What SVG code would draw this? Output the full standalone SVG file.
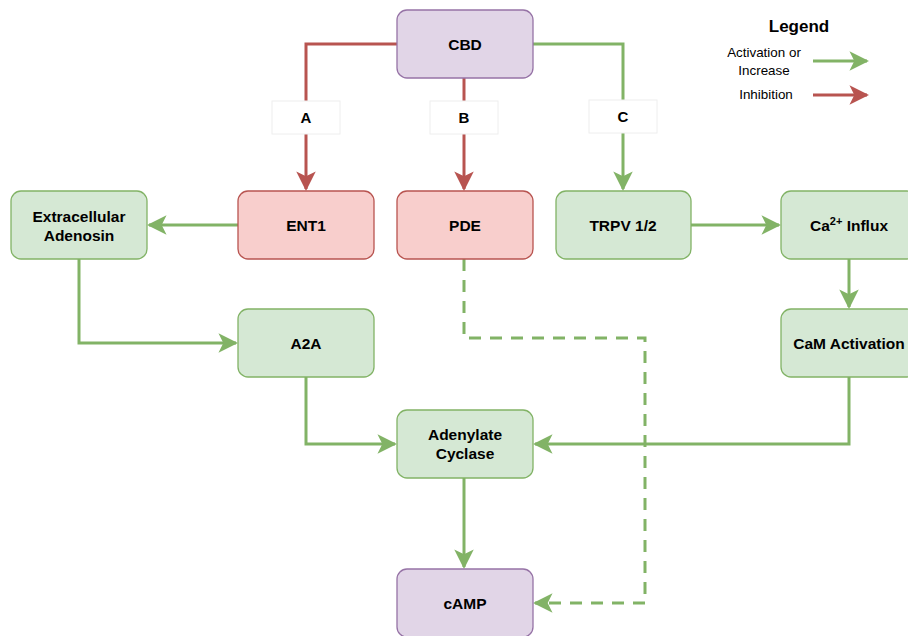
<svg xmlns="http://www.w3.org/2000/svg" width="908" height="636" viewBox="0 0 908 636">
<style>
.n text{font-family:"Liberation Sans",Arial,sans-serif;font-weight:bold;font-size:15.5px;fill:#000;text-anchor:middle}
.p rect{fill:#e1d5e7;stroke:#9673a6;stroke-width:1.3}
.r rect{fill:#f8cecc;stroke:#b85450;stroke-width:1.3}
.g rect{fill:#d5e8d4;stroke:#82b366;stroke-width:1.3}
.lb rect{fill:#fff;stroke:#eeeeee;stroke-width:1}
.lb text{font-family:"Liberation Sans",Arial,sans-serif;font-weight:bold;font-size:15px;text-anchor:middle}
.cg{fill:none;stroke:#82b366;stroke-width:3;marker-end:url(#ag)}
.cr{fill:none;stroke:#b85450;stroke-width:3;marker-end:url(#ar)}
.dash{stroke-dasharray:12 9}
.lg{font-family:"Liberation Sans",Arial,sans-serif;font-size:13.4px;fill:#000;text-anchor:middle}
.lgt{font-family:"Liberation Sans",Arial,sans-serif;font-size:17px;font-weight:bold;fill:#000;text-anchor:middle}
</style>
<defs>
<marker id="ag" viewBox="0 0 10 10" refX="9" refY="5" markerWidth="6.5" markerHeight="6.5" markerUnits="strokeWidth" orient="auto"><path d="M0,0 L10,5 L0,10 L2.5,5 Z" fill="#82b366"/></marker>
<marker id="ar" viewBox="0 0 10 10" refX="9" refY="5" markerWidth="6.5" markerHeight="6.5" markerUnits="strokeWidth" orient="auto"><path d="M0,0 L10,5 L0,10 L2.5,5 Z" fill="#b85450"/></marker>
</defs>
<rect width="908" height="636" fill="#fff"/>
<g id="connectors">
<path class="cr" d="M397,44 H306 V189"/>
<path class="cr" d="M464,78 V189"/>
<path class="cg" d="M533,44 H623 V189"/>
<path class="cg" d="M238,225 H149"/>
<path class="cg" d="M691,225 H779"/>
<path class="cg" d="M849,259 V307"/>
<path class="cg" d="M79,259 V343 H236"/>
<path class="cg" d="M306,377 V444 H395"/>
<path class="cg" d="M849,377 V444 H535"/>
<path class="cg" d="M464,478 V567"/>
<path class="cg dash" d="M464,259 V338 H645 V603 H535"/>
</g>
<g id="label-A" class="lb"><rect x="272" y="101" width="68" height="33"/><text x="306" y="123">A</text></g>
<g id="label-B" class="lb"><rect x="430" y="101" width="68" height="33"/><text x="464" y="123">B</text></g>
<g id="label-C" class="lb"><rect x="589" y="100" width="68" height="33"/><text x="623" y="122">C</text></g>
<g id="cbd" class="n p"><rect x="397" y="10" width="136" height="68" rx="10"/><text x="465" y="50">CBD</text></g>
<g id="ent1" class="n r"><rect x="238" y="191" width="136" height="68" rx="10"/><text x="306" y="231">ENT1</text></g>
<g id="pde" class="n r"><rect x="397" y="191" width="136" height="68" rx="10"/><text x="465" y="231">PDE</text></g>
<g id="trpv" class="n g"><rect x="556" y="191" width="135" height="68" rx="10"/><text x="623" y="231">TRPV 1/2</text></g>
<g id="ca" class="n g"><rect x="781" y="191" width="136" height="68" rx="10"/><text x="849" y="231">Ca<tspan font-size="11" dy="-6">2+</tspan><tspan dy="6"> Influx</tspan></text></g>
<g id="adenosin" class="n g"><rect x="11" y="191" width="136" height="68" rx="10"/><text x="79" y="222">Extracellular</text><text x="79" y="241">Adenosin</text></g>
<g id="a2a" class="n g"><rect x="238" y="309" width="136" height="68" rx="10"/><text x="306" y="349">A2A</text></g>
<g id="cam" class="n g"><rect x="781" y="309" width="136" height="68" rx="10"/><text x="849" y="349">CaM Activation</text></g>
<g id="ac" class="n g"><rect x="397" y="410" width="136" height="68" rx="10"/><text x="465" y="440">Adenylate</text><text x="465" y="459">Cyclase</text></g>
<g id="camp" class="n p"><rect x="397" y="569" width="136" height="68" rx="10"/><text x="465" y="609">cAMP</text></g>
<g id="legend">
<text x="799" y="32" class="lgt">Legend</text>
<text x="764" y="57" class="lg">Activation or</text>
<text x="764" y="75" class="lg">Increase</text>
<text x="766" y="99" class="lg">Inhibition</text>
<path class="cg" d="M813,61 H867"/>
<path class="cr" d="M813,95 H867"/>
</g>
</svg>
